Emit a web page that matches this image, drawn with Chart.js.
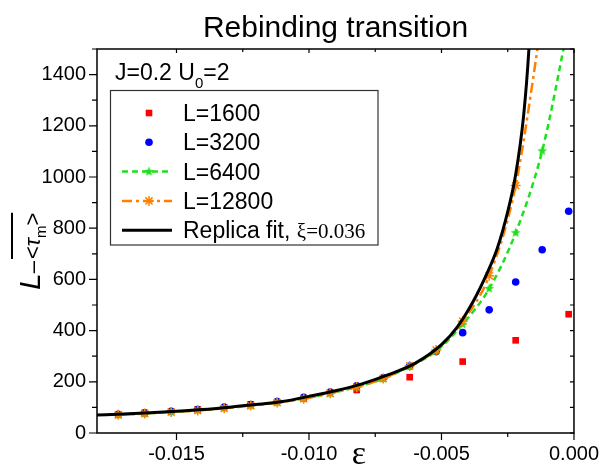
<!DOCTYPE html>
<html><head><meta charset="utf-8">
<script src="https://cdn.jsdelivr.net/npm/chart.js@4/dist/chart.umd.min.js"></script>
<style>html,body{margin:0;padding:0;background:#fff;}canvas{display:block}</style>
</head><body>
<canvas id="c" width="608" height="470"></canvas>
<script>
// ---- data ----
const epsGrid = [-0.0172,-0.0162,-0.0152,-0.0142,-0.0132,-0.0122,-0.0112,-0.0102,-0.0092,-0.0082,-0.0072,-0.0062,-0.0052,-0.0042,-0.0032,-0.0022,-0.0012,-0.0002];
const eps1600 = [-0.0162,-0.0142,-0.0122,-0.0102,-0.0082,-0.0062,-0.0042,-0.0022,-0.0002];
const val1600 = [78,92,112,135,168,218,279,362,464];
const val3200 = [73,79,85,92,101,111,123,139,160,184,216,262,318,392,481,590,716,866];
const val6400 = [71,76,82,89,97,107,119,135,155,180,212,260,320,425,564,782,1102,1600];
const val12800 = [71,76,82,88,97,107,119,134,155,180,213,262,324,437,614,967,1620];
const epsFit = [-0.0180,-0.0170,-0.0160,-0.0150,-0.0140,-0.0130,-0.0120,-0.0110,-0.0100,-0.0090,-0.0080,-0.0070,-0.0060,-0.0050,-0.0044,-0.0038,-0.0033,-0.0029,-0.0025,-0.0022,-0.0019,-0.0017,-0.0015];
const valFit = [70,74,79,85,92,101,111,123,143,165,192,228,272,345,415,515,620,720,865,1010,1240,1500,1900];
const seriesLabels = ['L=1600','L=3200','L=6400','L=12800','Replica fit, '];
const fitParam = 'ξ=0.036';
const xTickLabels = ['-0.015','-0.010','-0.005','0.000'];
const yTickLabels = ['0','200','400','600','800','1000','1200','1400'];
const chartTitle = 'Rebinding transition';

const SANS = "'Liberation Sans', Arial, sans-serif";
const SERIF = "'Liberation Serif', 'Times New Roman', serif";
Chart.defaults.font.family = SANS;

function pts(xs, ys){ return ys.map((y,i)=>({x:xs[i], y:y})); }
function starImg(color, R, r){
  const s = Math.ceil(2*R+2), c = document.createElement('canvas'); c.width = s; c.height = s;
  const g = c.getContext('2d'); g.fillStyle = color; g.beginPath();
  for (let i=0;i<10;i++){ const a=-Math.PI/2+i*Math.PI/5, rr=i%2?r:R; g.lineTo(s/2+rr*Math.cos(a), s/2+rr*Math.sin(a)); }
  g.closePath(); g.fill(); return c;
}
const GREEN = '#1fe01f', ORANGE = '#ff8000';
const greenStar = starImg(GREEN, 5.2, 2.2);

const fmtX = v => Math.abs(v) < 1e-9 ? '0.000' : v.toFixed(3);
const isMult = (v, s) => Math.abs(v/s - Math.round(v/s)) < 1e-6;

const decor = {
  id: 'decor',
  afterDatasetsDraw(chart){
    const ctx = chart.ctx, a = chart.chartArea, xs = chart.scales.x, ys = chart.scales.y;
    ctx.save();
    // frame
    ctx.strokeStyle = '#000'; ctx.lineWidth = 1.5;
    ctx.strokeRect(a.left, a.top, a.right-a.left, a.bottom-a.top);
    ctx.lineWidth = 1.2;
    // y ticks
    ys.ticks.forEach(t => {
      if (!isMult(t.value, 100)) return;
      const y = ys.getPixelForValue(t.value), maj = isMult(t.value, 200);
      ctx.beginPath(); ctx.moveTo(a.left-(maj?8:5), y); ctx.lineTo(a.left, y);
      ctx.moveTo(a.right, y); ctx.lineTo(a.right-4, y); ctx.stroke();
    });
    xs.ticks.forEach(t => {
      if (!isMult(t.value, 0.0025)) return;
      const x = xs.getPixelForValue(t.value), maj = isMult(t.value, 0.005);
      ctx.beginPath(); ctx.moveTo(x, a.bottom); ctx.lineTo(x, a.bottom+(maj?7:4));
      ctx.moveTo(x, a.top); ctx.lineTo(x, a.top+(maj?4:3)); ctx.stroke();
    });
    // title
    ctx.fillStyle = '#000'; ctx.textAlign = 'center'; ctx.textBaseline = 'alphabetic';
    ctx.font = '30px ' + SANS;
    ctx.fillText(chartTitle, (a.left+a.right)/2, 37);
    // annotation J=0.2 U0=2
    ctx.textAlign = 'left';
    ctx.font = '23px ' + SANS;
    let x0 = a.left + 18, b0 = 80;
    ctx.fillText('J=0.2 U', x0, b0); x0 += ctx.measureText('J=0.2 U').width;
    ctx.font = '15px ' + SANS; ctx.fillText('0', x0, b0+8); x0 += ctx.measureText('0').width;
    ctx.font = '23px ' + SANS; ctx.fillText('=2', x0, b0);
    // legend box
    ctx.fillStyle = '#fff'; ctx.fillRect(110.5, 90.5, 267.5, 154.5);
    ctx.strokeStyle = '#333'; ctx.lineWidth = 1.2; ctx.strokeRect(110.5, 90.5, 267.5, 154.5);
    const rowY = i => 113 + i*29.3, mx = 149, lx0 = 122, lx1 = 172, tx = 183;
    // markers
    ctx.fillStyle = '#ff0000'; ctx.fillRect(mx-3.3, rowY(0)-3.3, 6.6, 6.6);
    ctx.fillStyle = '#0000ff'; ctx.beginPath(); ctx.arc(mx, rowY(1), 3.8, 0, Math.PI*2); ctx.fill();
    ctx.lineWidth = 2.5; ctx.strokeStyle = GREEN; ctx.setLineDash([6,4]);
    ctx.beginPath(); ctx.moveTo(lx0, rowY(2)); ctx.lineTo(lx1, rowY(2)); ctx.stroke();
    ctx.drawImage(greenStar, mx-greenStar.width/2, rowY(2)-greenStar.height/2);
    ctx.strokeStyle = ORANGE; ctx.setLineDash([10,4,3,4]);
    ctx.beginPath(); ctx.moveTo(lx0, rowY(3)); ctx.lineTo(lx1, rowY(3)); ctx.stroke();
    ctx.setLineDash([]); ctx.lineWidth = 1.5; ctx.beginPath();
    for (let k=0;k<4;k++){ const an = k*Math.PI/4; ctx.moveTo(mx-5*Math.cos(an), rowY(3)-5*Math.sin(an)); ctx.lineTo(mx+5*Math.cos(an), rowY(3)+5*Math.sin(an)); }
    ctx.stroke();
    ctx.strokeStyle = '#000'; ctx.lineWidth = 3; ctx.beginPath(); ctx.moveTo(lx0, rowY(4)); ctx.lineTo(lx1, rowY(4)); ctx.stroke();
    // legend text
    ctx.fillStyle = '#000'; ctx.font = '23px ' + SANS;
    seriesLabels.forEach((s,i) => ctx.fillText(s, tx, rowY(i)+8));
    const w = ctx.measureText(seriesLabels[4]).width;
    ctx.font = '21px ' + SERIF; ctx.fillText(fitParam, tx + w, rowY(4)+8);
    // x label
    ctx.font = '34px ' + SERIF; ctx.textAlign = 'center';
    ctx.fillText('ε', 359, 464);
    // y label (rotated)
    ctx.save(); ctx.translate(40, 290); ctx.rotate(-Math.PI/2); ctx.textAlign = 'left';
    let px = 0;
    ctx.font = 'italic 30px ' + SANS; ctx.fillText('L', px, 0); px += ctx.measureText('L').width;
    ctx.font = '22px ' + SANS; ctx.fillText('–', px, 0); px += ctx.measureText('–').width + 2;
    const ovStart = px;
    ctx.fillText('<', px, 0); px += ctx.measureText('<').width;
    ctx.font = 'italic 22px ' + SANS; ctx.fillText('τ', px, 0); px += ctx.measureText('τ').width;
    ctx.font = '15px ' + SANS; ctx.fillText('m', px, 6); px += ctx.measureText('m').width;
    ctx.font = '22px ' + SANS; ctx.fillText('>', px, 0); px += ctx.measureText('>').width;
    ctx.lineWidth = 2; ctx.strokeStyle = '#000'; ctx.beginPath(); ctx.moveTo(ovStart, -28); ctx.lineTo(px, -28); ctx.stroke();
    ctx.restore();
    ctx.restore();
  }
};

new Chart(document.getElementById('c'), {
  type: 'scatter',
  data: { datasets: [
    { label: seriesLabels[4], data: pts(epsFit, valFit), showLine: true, borderColor: '#000', borderWidth: 3, pointRadius: 0, cubicInterpolationMode: 'monotone', order: 0 },
    { label: seriesLabels[3], data: pts(epsGrid, val12800), showLine: true, borderColor: ORANGE, backgroundColor: ORANGE, borderWidth: 2.5, borderDash: [10,4,3,4], cubicInterpolationMode: 'monotone', pointStyle: 'star', pointRadius: 5, pointBorderWidth: 1.5, pointBorderColor: ORANGE, order: 1 },
    { label: seriesLabels[2], data: pts(epsGrid, val6400), showLine: true, borderColor: GREEN, backgroundColor: GREEN, borderWidth: 2.5, borderDash: [6,4], cubicInterpolationMode: 'monotone', pointStyle: greenStar, pointRadius: 5, order: 2 },
    { label: seriesLabels[1], data: pts(epsGrid, val3200), showLine: false, backgroundColor: '#0000ff', borderColor: '#0000ff', pointStyle: 'circle', pointRadius: 3.8, pointBorderWidth: 0, order: 3 },
    { label: seriesLabels[0], data: pts(eps1600, val1600), showLine: false, backgroundColor: '#ff0000', borderColor: '#ff0000', pointStyle: 'rect', pointRadius: 4.7, pointBorderWidth: 0, order: 4 }
  ]},
  options: {
    responsive: false, animation: false, devicePixelRatio: 1,
    layout: { padding: { top: 49, right: 27, left: 0, bottom: 0 } },
    plugins: { legend: { display: false }, tooltip: { enabled: false }, title: { display: false } },
    scales: {
      x: { type: 'linear', min: -0.018, max: 0,
        afterFit: s => { s.height = 37; },
        grid: { display: false, drawTicks: false }, border: { display: false },
        ticks: { stepSize: 0.0025, autoSkip: false, maxRotation: 0, padding: 9, color: '#000', font: { size: 20 },
          callback: v => { const s = fmtX(v); return isMult(v, 0.005) && xTickLabels.includes(s) ? s : ''; } } },
      y: { type: 'linear', min: 0, max: 1500,
        afterFit: s => { s.width = 97; },
        grid: { display: false, drawTicks: false }, border: { display: false },
        ticks: { stepSize: 100, autoSkip: false, padding: 11, color: '#000', font: { size: 20 },
          callback: v => { const s = String(Math.round(v)); return yTickLabels.includes(s) ? s : ''; } } }
    }
  },
  plugins: [decor]
});
</script>
</body></html>
